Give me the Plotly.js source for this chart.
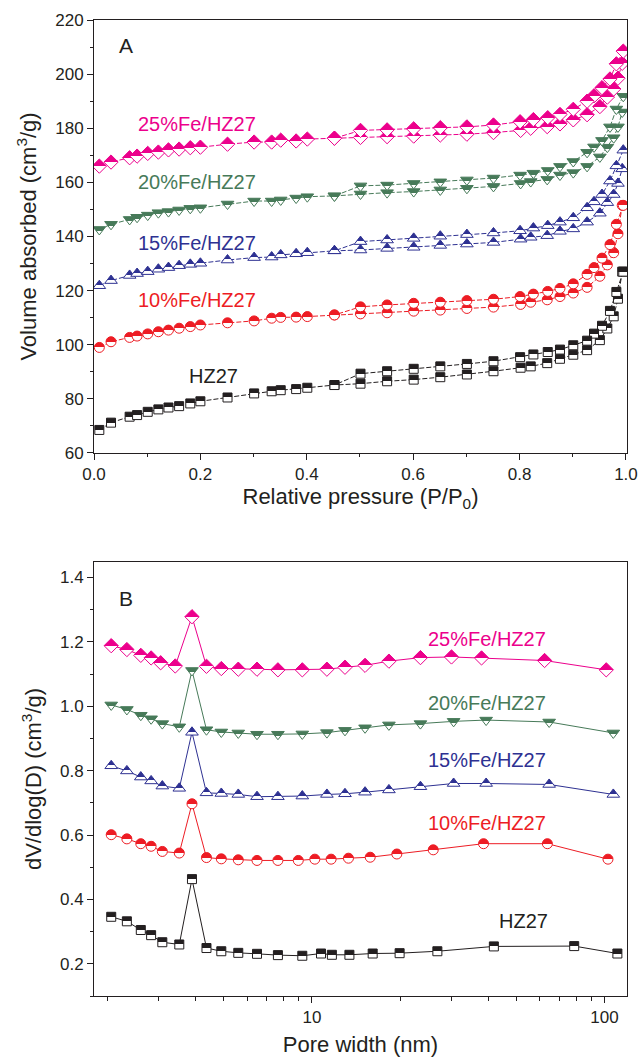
<!DOCTYPE html>
<html>
<head>
<meta charset="utf-8">
<script src="https://cdn.plot.ly/plotly-3.0.1.min.js"></script>
<style>html,body{margin:0;padding:0;background:#fff;}#chart{width:638px;height:1057px;}</style>
</head>
<body>
<div id="chart"></div>
<script>
// ---------- Panel A: N2 isotherms ----------
const P_ads = [0.010,0.032,0.067,0.081,0.101,0.121,0.140,0.160,0.181,0.200,0.251,0.301,0.334,0.351,0.380,0.401,0.452,0.501,0.551,0.601,0.651,0.701,0.751,0.802,0.821,0.852,0.876,0.901,0.927,0.951,0.965,0.977,0.985,0.993];
const P_des = [0.995,0.982,0.970,0.955,0.940,0.927,0.901,0.876,0.853,0.826,0.801,0.751,0.701,0.651,0.601,0.551,0.501,0.452];

const hz27_ads = [68.5,71.2,73.4,74.0,75.2,76.1,76.8,77.3,78.3,79.1,80.5,82.0,82.8,83.2,83.6,84.1,85.1,85.6,86.5,87.1,88.0,89.0,90.2,91.5,92.0,93.2,94.8,96.3,98.0,101.7,106.0,110.5,117.0,127.0];
const hz27_des = [127.0,119.5,112.5,107.0,104.1,101.5,99.8,98.2,97.3,96.4,95.4,93.9,92.9,92.0,91.1,90.2,89.3,85.1];

const fe10_ads = [99.0,101.1,102.7,103.2,104.0,104.8,105.4,106.1,106.7,107.3,108.1,108.8,109.8,110.1,110.2,110.4,111.0,111.4,111.8,112.4,112.8,113.4,113.9,114.9,115.7,116.6,117.8,119.1,121.2,125.3,129.5,134.0,141.0,151.5];
const fe10_des = [151.5,144.5,137.0,132.0,128.5,126.0,122.5,120.8,119.7,118.7,117.8,116.8,116.3,115.7,115.3,114.7,114.0,111.0];

const fe15_ads = [121.8,123.7,125.6,126.3,127.0,127.9,128.5,129.2,129.7,130.1,131.3,132.2,132.4,133.2,133.6,134.0,134.7,135.0,135.6,136.0,136.7,137.2,137.8,139.0,139.7,140.3,141.9,142.8,145.3,148.6,152.5,155.5,159.6,165.0];
const fe15_des = [171.9,166.1,160.5,155.5,152.8,150.6,146.9,145.3,144.0,143.1,142.1,141.3,140.7,140.1,139.3,138.7,138.1,134.7];

const fe20_ads = [142.6,144.5,146.3,147.1,147.9,148.8,149.2,149.8,150.4,150.6,152.0,153.1,153.1,153.5,154.2,154.7,155.0,155.7,156.2,156.6,157.2,157.8,158.5,159.6,160.3,161.1,162.7,163.6,165.9,169.4,173.0,176.5,180.5,186.0];
const fe20_des = [191.8,187.1,180.5,175.5,173.1,171.1,167.7,165.9,164.4,163.4,162.7,161.6,160.9,160.2,159.6,159.0,158.7,155.0];

const fe25_ads = [166.0,167.5,169.1,169.7,170.7,171.2,172.0,172.3,172.8,173.0,174.1,174.9,174.9,175.6,175.3,176.0,176.3,176.6,176.9,177.1,177.5,177.8,178.4,179.2,180.0,180.6,181.6,183.1,185.0,188.0,191.5,194.5,198.5,204.0];
const fe25_des = [208.5,203.8,198.2,195.0,192.0,190.0,187.0,185.1,183.9,183.2,182.4,181.2,180.5,180.2,179.8,179.4,179.2,176.3];

// ---------- Panel B: pore size distribution ----------
const D_hz27 = [2.06,2.33,2.60,2.82,3.08,3.52,3.89,4.36,4.90,5.60,6.49,7.65,9.27,10.74,11.70,13.43,16.13,19.94,26.84,41.87,78.8,110.7];
const psd_hz27 = [0.346,0.332,0.305,0.289,0.267,0.260,0.463,0.249,0.239,0.234,0.231,0.227,0.225,0.232,0.228,0.228,0.232,0.233,0.239,0.254,0.255,0.232];

const D_fe10 = [2.06,2.33,2.60,2.82,3.08,3.52,3.89,4.36,4.90,5.60,6.49,7.65,8.98,10.23,11.63,13.33,15.82,19.51,25.98,38.6,63.8,102.8];
const psd_fe10 = [0.601,0.588,0.573,0.565,0.549,0.544,0.697,0.530,0.526,0.523,0.521,0.521,0.521,0.525,0.525,0.528,0.531,0.541,0.554,0.573,0.573,0.525];

const D_fe15 = [2.06,2.33,2.60,2.82,3.08,3.52,3.89,4.36,4.90,5.60,6.49,7.65,9.27,11.25,12.97,15.19,18.33,23.49,30.5,39.4,64.7,107.2];
const psd_fe15 = [0.815,0.799,0.780,0.768,0.752,0.745,0.919,0.731,0.729,0.726,0.719,0.719,0.721,0.726,0.728,0.733,0.740,0.750,0.760,0.760,0.757,0.726];

const D_fe20 = [2.06,2.33,2.60,2.82,3.08,3.52,3.89,4.36,4.90,5.60,6.49,7.65,9.27,11.25,12.97,15.19,18.33,23.49,30.5,39.4,64.7,107.2];
const psd_fe20 = [1.004,0.990,0.972,0.961,0.946,0.936,1.111,0.927,0.920,0.917,0.913,0.913,0.914,0.918,0.925,0.933,0.942,0.946,0.953,0.957,0.951,0.917];

const D_fe25 = [2.06,2.33,2.60,2.82,3.04,3.41,3.89,4.36,4.90,5.60,6.49,7.65,9.27,11.25,12.97,15.19,18.33,23.49,30.0,38.0,62.4,101.4];
const psd_fe25 = [1.188,1.176,1.158,1.150,1.135,1.125,1.278,1.124,1.117,1.115,1.115,1.113,1.113,1.115,1.121,1.127,1.140,1.151,1.153,1.150,1.142,1.113];

const seriesNames = ['HZ27','10%Fe/HZ27','15%Fe/HZ27','20%Fe/HZ27','25%Fe/HZ27'];
const colors = ['#231f20','#ed1c24','#2e3192','#477a59','#ec008c'];
const symbols = ['square','circle','triangle-up','triangle-down','diamond'];
const sizes = [9,10,11,11,11];

const adsData = [hz27_ads,fe10_ads,fe15_ads,fe20_ads,fe25_ads];
const desData = [hz27_des,fe10_des,fe15_des,fe20_des,fe25_des];
const psdX = [D_hz27,D_fe10,D_fe15,D_fe20,D_fe25];
const psdY = [psd_hz27,psd_fe10,psd_fe15,psd_fe20,psd_fe25];

const FONT = 'Liberation Sans, Arial, Helvetica, sans-serif';
const traces = [];
function mk(i){
  return {symbol: symbols[i], size: sizes[i], color: colors[i],
          line: {color: colors[i], width: 1},
          gradient: {type: 'vertical', color: '#ffffff'}};
}
for (let i = 0; i < 5; i++) {
  traces.push({x: P_ads, y: adsData[i], xaxis: 'x', yaxis: 'y', mode: 'lines+markers',
    uid: 's' + i + 'ads' + (i === 2 ? 'TU' : ''), line: {color: colors[i], width: 1, dash: '5px,2px'},
    marker: mk(i), showlegend: false, hoverinfo: 'skip'});
  traces.push({x: P_des, y: desData[i], xaxis: 'x', yaxis: 'y', mode: 'lines+markers',
    uid: 's' + i + 'des' + (i === 2 ? 'TU' : ''), line: {color: colors[i], width: 1, dash: '5px,2px'},
    marker: mk(i), showlegend: false, hoverinfo: 'skip'});
  traces.push({x: psdX[i], y: psdY[i], xaxis: 'x2', yaxis: 'y2', mode: 'lines+markers',
    uid: 's' + i + 'psd' + (i === 2 ? 'TU' : ''), line: {color: colors[i], width: 1},
    marker: mk(i), showlegend: false, hoverinfo: 'skip'});
}

const tickFont = {family: FONT, size: 17, color: '#231f20'};
const titleFont = {family: FONT, size: 22, color: '#231f20'};
const axBase = {showline: true, linecolor: '#231f20', linewidth: 1, mirror: true, ticks: 'outside',
  ticklen: 6, tickwidth: 1, tickcolor: '#231f20', showgrid: false, zeroline: false, tickfont: tickFont};

const minorLog = [2,3,4,5,6,7,8,9,20,30,40,50,60,70,80,90];

const annFont = (c) => ({family: FONT, size: 20, color: c});
const annotations = [
  {xref: 'x', yref: 'y', x: 0.06, y: 210.5, text: 'A', showarrow: false, font: {family: FONT, size: 21, color: '#231f20'}},
  {xref: 'x', yref: 'y', x: 0.194, y: 181.4, text: seriesNames[4], showarrow: false, font: annFont(colors[4])},
  {xref: 'x', yref: 'y', x: 0.194, y: 160.0, text: seriesNames[3], showarrow: false, font: annFont(colors[3])},
  {xref: 'x', yref: 'y', x: 0.194, y: 137.6, text: seriesNames[2], showarrow: false, font: annFont(colors[2])},
  {xref: 'x', yref: 'y', x: 0.194, y: 116.5, text: seriesNames[1], showarrow: false, font: annFont(colors[1])},
  {xref: 'x', yref: 'y', x: 0.224, y: 88.4, text: seriesNames[0], showarrow: false, font: annFont(colors[0])},
  {xref: 'x2', yref: 'y2', x: Math.log10(2.32), y: 1.335, text: 'B', showarrow: false, font: {family: FONT, size: 21, color: '#231f20'}},
  {xref: 'x2', yref: 'y2', x: Math.log10(39.8), y: 1.209, text: seriesNames[4], showarrow: false, font: annFont(colors[4])},
  {xref: 'x2', yref: 'y2', x: Math.log10(39.8), y: 1.011, text: seriesNames[3], showarrow: false, font: annFont(colors[3])},
  {xref: 'x2', yref: 'y2', x: Math.log10(39.8), y: 0.832, text: seriesNames[2], showarrow: false, font: annFont(colors[2])},
  {xref: 'x2', yref: 'y2', x: Math.log10(39.8), y: 0.637, text: seriesNames[1], showarrow: false, font: annFont(colors[1])},
  {xref: 'x2', yref: 'y2', x: Math.log10(52.8), y: 0.334, text: seriesNames[0], showarrow: false, font: annFont(colors[0])}
];

const layout = {
  width: 638, height: 1057,
  margin: {l: 94, r: 11, t: 20, b: 61},
  paper_bgcolor: '#ffffff', plot_bgcolor: '#ffffff',
  showlegend: false,
  font: {family: FONT, color: '#231f20'},
  xaxis: Object.assign({}, axBase, {domain: [0, 1], anchor: 'y', range: [0, 1.002], dtick: 0.2, tick0: 0,
    tickformat: '.1f', minor: {dtick: 0.1, tick0: 0, ticks: 'outside', ticklen: 3, tickcolor: '#231f20'},
    title: {text: 'Relative pressure (P/P<sub>0</sub>)', font: titleFont, standoff: 0}}),
  yaxis: Object.assign({}, axBase, {domain: [0.5564, 1], anchor: 'x', range: [60, 220], dtick: 20, tick0: 0,
    minor: {dtick: 10, tick0: 0, ticks: 'outside', ticklen: 3, tickcolor: '#231f20'},
    title: {text: 'Volume absorbed (cm<sup>3</sup>/g)', font: titleFont, standoff: 12}}),
  xaxis2: Object.assign({}, axBase, {domain: [0, 1], anchor: 'y2', type: 'log', range: [0.255, 2.077],
    tickmode: 'array', tickvals: [10, 100], ticktext: ['10', '100'],
    minor: {tickmode: 'array', tickvals: minorLog, ticks: 'outside', ticklen: 4, tickcolor: '#231f20'},
    title: {text: 'Pore width (nm)', font: titleFont, standoff: 10}}),
  yaxis2: Object.assign({}, axBase, {domain: [0, 0.4447], anchor: 'x2', range: [0.1, 1.448], dtick: 0.2, tick0: 0,
    tickformat: '.1f', minor: {dtick: 0.1, tick0: 0, ticks: 'outside', ticklen: 3, tickcolor: '#231f20'},
    title: {text: 'dV/dlog(D) (cm<sup>3</sup>/g)', font: titleFont, standoff: 12}}),
  annotations: annotations
};

// make the marker gradient a sharp half fill (top coloured, bottom white)
function sharpen(gd) {
  gd.querySelectorAll('linearGradient').forEach(function (g) {
    const stops = g.querySelectorAll('stop');
    if (!stops.length) return;
    const cols = Array.from(stops).map(s => s.getAttribute('stop-color') || '');
    let fill = cols.find(c => !/255,\s*255,\s*255|#fff/i.test(c)) || cols[cols.length - 1];
    const cut = /TU/.test(g.id) ? 0.6 : 0.5;
    while (g.firstChild) g.removeChild(g.firstChild);
    g.setAttribute('x1', '0'); g.setAttribute('y1', '0');
    g.setAttribute('x2', '0'); g.setAttribute('y2', '1');
    [[0, fill], [cut, fill], [cut, '#ffffff'], [1, '#ffffff']].forEach(function (s) {
      const st = document.createElementNS('http://www.w3.org/2000/svg', 'stop');
      st.setAttribute('offset', s[0]);
      st.setAttribute('stop-color', s[1]);
      g.appendChild(st);
    });
  });
}

const gd = document.getElementById('chart');
Plotly.newPlot(gd, traces, layout, {staticPlot: true, displayModeBar: false}).then(function () {
  sharpen(gd);
  gd.on && gd.on('plotly_afterplot', function () { sharpen(gd); });
});
</script>
</body>
</html>
